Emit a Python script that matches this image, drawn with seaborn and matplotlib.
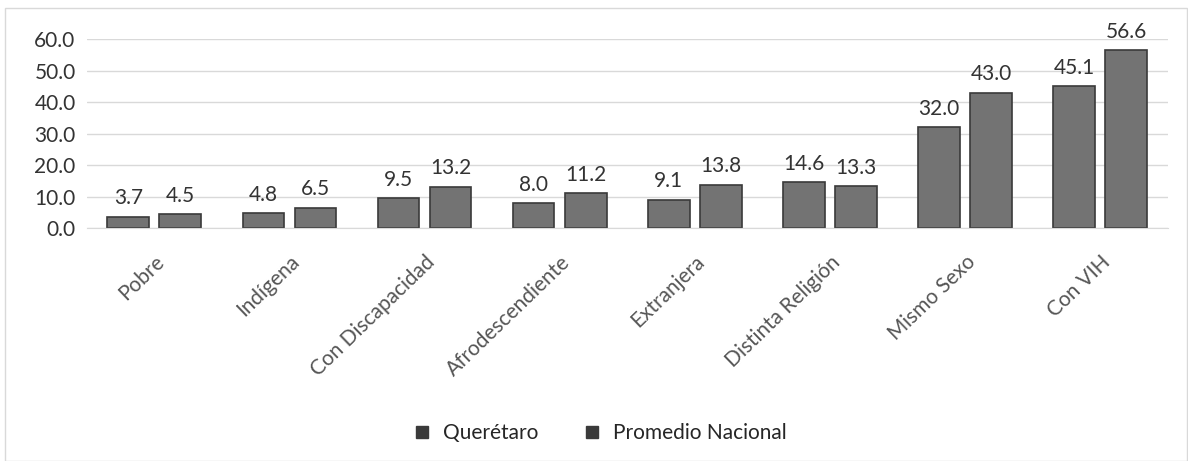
import pandas as pd
import matplotlib.pyplot as plt
import seaborn as sns

# datos
categorias = ['Pobre', 'Indígena', 'Con Discapacidad', 'Afrodescendiente',
              'Extranjera', 'Distinta Religión', 'Mismo Sexo', 'Con VIH']
queretaro = [3.7, 4.8, 9.5, 8.0, 9.1, 14.6, 32.0, 45.1]
nacional = [4.5, 6.5, 13.2, 11.2, 13.8, 13.3, 43.0, 56.6]
series = ['Querétaro', 'Promedio Nacional']

df = pd.DataFrame({
    'categoria': categorias * 2,
    'valor': queretaro + nacional,
    'serie': [series[0]] * len(categorias) + [series[1]] * len(categorias),
})

sns.set_style('white')
plt.rcParams['font.family'] = ['Lato', 'DejaVu Sans']

fig = plt.figure(figsize=(11.88, 4.61), dpi=100)
ax = fig.add_axes([0.073, 0.505, 0.91, 0.41])

sns.barplot(data=df, x='categoria', y='valor', hue='serie', ax=ax,
            palette=['#737373', '#737373'], width=0.77, gap=0.2,
            edgecolor='#3a3a3a', linewidth=1.2, legend=False)

for cont in ax.containers:
    ax.bar_label(cont, fmt='%.1f', padding=6, fontsize=15, color='#333333')

ax.set_ylim(0, 60)
ax.set_yticks(range(0, 61, 10))
ax.set_yticklabels([f'{v:.1f}' for v in range(0, 61, 10)], fontsize=15, color='#333333')
ax.set_xlim(-0.5, len(categorias) - 0.5)
ax.set_xticks(range(len(categorias)))
ax.set_xticklabels(categorias, rotation=44, ha='right', rotation_mode='anchor',
                   fontsize=15, color='#555555')
ax.tick_params(axis='y', length=0, pad=8)
ax.tick_params(axis='x', length=0, pad=17)
ax.yaxis.grid(True, color='#d9d9d9', linewidth=1)
ax.set_axisbelow(True)
for s in ['top', 'right', 'left']:
    ax.spines[s].set_visible(False)
ax.spines['bottom'].set_color('#d9d9d9')
ax.set_xlabel('')
ax.set_ylabel('')

# leyenda
handles = [plt.Line2D([], [], marker='s', linestyle='', markersize=9,
                      markerfacecolor='#3a3a3a', markeredgecolor='#3a3a3a')
           for _ in series]
fig.legend(handles, series, loc='center', bbox_to_anchor=(0.5, 0.06), ncol=2,
           frameon=False, fontsize=15, handletextpad=0.0, columnspacing=1.6)

# marco
fig.patches.append(plt.Rectangle((0.004, 0.0), 0.995, 0.982, transform=fig.transFigure,
                                 fill=False, edgecolor='#d9d9d9', linewidth=1))

fig.savefig('out.png', dpi=100)
